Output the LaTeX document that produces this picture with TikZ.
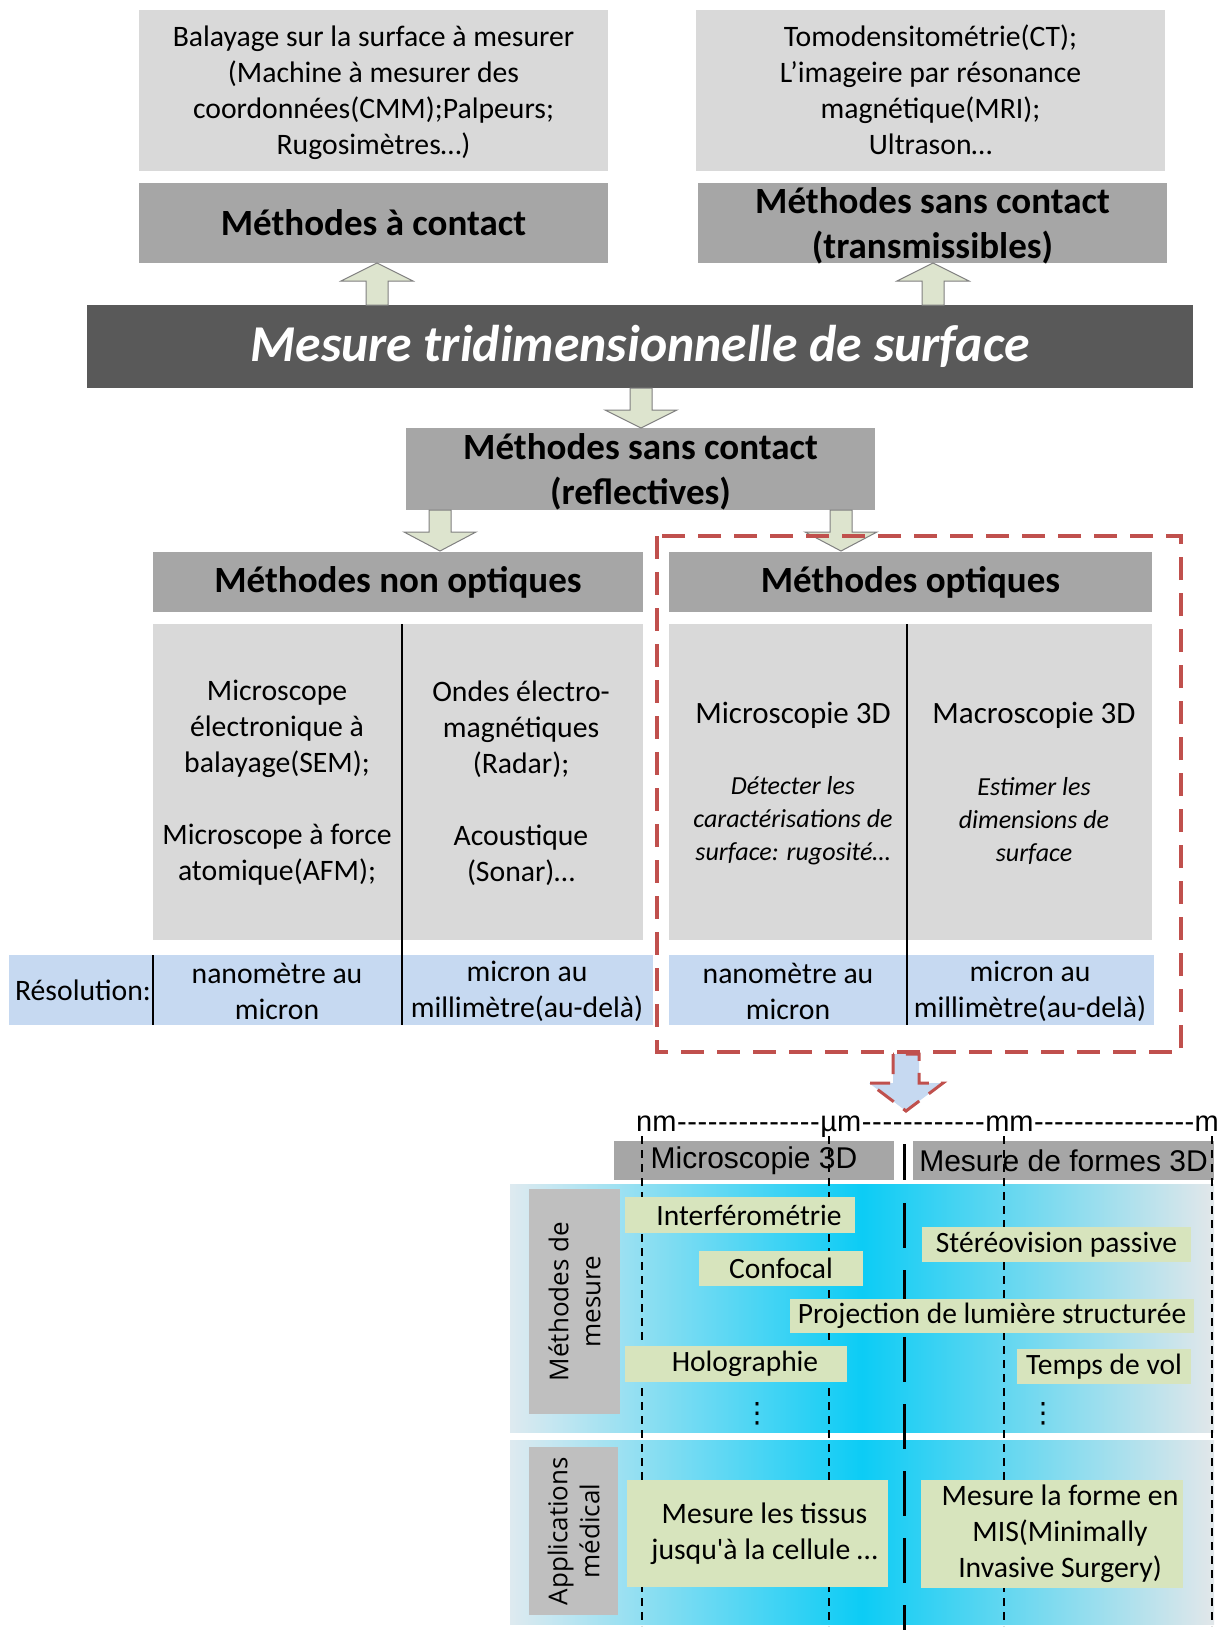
\documentclass[tikz,border=0pt]{standalone}
\usepackage{fontspec}
\setmainfont{Carlito}
\newfontfamily\arialf{Liberation Sans}
\newfontfamily\opens{Open Sans}
\newfontfamily\calp{Carlito}
\newfontfamily\dejavu{DejaVu Sans}
\usetikzlibrary{calc}
\definecolor{lgray}{RGB}{217,217,217}
\definecolor{mgray}{RGB}{166,166,166}
\definecolor{dgray}{RGB}{89,89,89}
\definecolor{lblgray}{RGB}{191,191,191}
\definecolor{rblue}{RGB}{198,217,241}
\definecolor{arrfill}{RGB}{221,228,206}
\definecolor{arrdraw}{RGB}{128,128,128}
\definecolor{redd}{RGB}{192,80,77}
\definecolor{gbox}{RGB}{215,228,189}
\definecolor{cyanc}{RGB}{12,204,245}
\definecolor{edgeL}{RGB}{222,234,240}
\definecolor{edgeR}{RGB}{226,231,234}
\newcommand\fsz[2]{\fontsize{#1}{#2}\selectfont}
\newcommand\hyphs[1]{\hbox to #1pt{\xleaders\hbox{-}\hfill}}
% block arrow: x, y start, y head base, y tip, half stem, half head
\newcommand\blkarrow[7][arrowbox]{%
  \path[#1] (#2-#6,#3) -- (#2-#6,#4) -- (#2-#7,#4) -- (#2,#5) -- (#2+#7,#4) -- (#2+#6,#4) -- (#2+#6,#3) -- cycle;}
\tikzset{
  box/.style={anchor=north west, inner sep=0pt, outer sep=0pt, align=center, draw=none},
  txt/.style={inner sep=0pt, align=center},
  hdr/.style={box, fill=mgray, font=\bfseries\fsz{37}{45}},
  arrowbox/.style={fill=arrfill, draw=arrdraw, line width=1pt},
  divline/.style={draw=black, line width=1.2pt},
  reddash/.style={draw=redd, line width=3.5pt, dash pattern=on 23pt off 13pt},
  gb/.style={box, fill=gbox, font=\fsz{29.5}{36}},
  thindash/.style={draw=black, line width=1.6pt, dash pattern=on 8pt off 6pt},
  centdash/.style={draw=black, line width=3pt, dash pattern=on 45pt off 22pt},
}
\begin{document}
\begin{tikzpicture}[x=1pt,y=-1pt]
\useasboundingbox (0,0) rectangle (1224,1630);
\fill[white] (0,0) rectangle (1224,1630);

% ---- top boxes
\node[box, fill=lgray, minimum width=469, minimum height=161] (tl) at (139,10) {};
\node[txt, font=\fsz{29.7}{36}] (tlt) at ([yshift=-2pt]tl.center)
  {Balayage sur la surface à mesurer\\(Machine à mesurer des\\coordonnées(CMM);Palpeurs;\\Rugosimètres…)};
\node[box, fill=lgray, minimum width=469, minimum height=161] (tr) at (696,10) {};
\node[txt, font=\fsz{29.7}{36}] (trt) at ([yshift=1pt]tr.center)
  {Tomodensitométrie(CT);\\L’imageire par résonance\\magnétique(MRI);\\Ultrason…};
\node[hdr, minimum width=469, minimum height=80] (mc) at (139,183) {Méthodes à contact};
\node[hdr, minimum width=469, minimum height=80] (mst) at (698,183) {};
\node[txt, font=\bfseries\fsz{37}{45}] (mstt) at ([yshift=-3pt]mst.center) {Méthodes sans contact\\(transmissibles)};

% ---- main bar
\node[box, fill=dgray, minimum width=1106, minimum height=83, text=white, font=\bfseries\itshape\fsz{51.7}{60}] (big) at (87,305)
  {Mesure tridimensionnelle de surface};

\node[hdr, minimum width=469, minimum height=82] (refl) at (406,428) {};
\node[txt, font=\bfseries\fsz{37}{45}] (reflt) at ([yshift=-3pt]refl.center) {Méthodes sans contact\\(reflectives)};

% ---- second level
\node[hdr, minimum width=490, minimum height=60] (nonopt) at (153,552) {Méthodes non optiques};
\node[hdr, minimum width=483, minimum height=60] (opt) at (669,552) {Méthodes optiques};

\node[box, fill=lgray, minimum width=490, minimum height=316] (cl) at (153,624) {};
\node[box, fill=lgray, minimum width=483, minimum height=316] (cr) at (669,624) {};
\node[box, fill=rblue, minimum width=644, minimum height=70] (rl) at (9,955) {};
\node[box, fill=rblue, minimum width=485, minimum height=70] (rr) at (669,955) {};
\draw[divline] (402,624) -- (402,1025);
\draw[divline] (907,624) -- (907,1025);
\draw[divline] (153,955) -- (153,1025);

\node[txt, font=\fsz{29.7}{36}] (t1) at (277,783)
  {Microscope\\électronique à\\balayage(SEM);\\[36pt]Microscope à force\\atomique(AFM);};
\node[txt, font=\fsz{29.7}{36}] (t2) at (521,783)
  {Ondes électro-\\magnétiques\\(Radar);\\[36pt]Acoustique\\(Sonar)…};
\node[txt, font=\fsz{31}{36}] (t3) at (793,715) {Microscopie 3D};
\node[txt, font=\itshape\fsz{26}{33}] (t3i) at (793,821) {Détecter les\\caractérisations de\\surface: rugosité…};
\node[txt, font=\fsz{31}{36}] (t4) at (1034,715) {Macroscopie 3D};
\node[txt, font=\itshape\fsz{26}{33}] (t4i) at (1034,821) {Estimer les\\dimensions de\\surface};

\node[txt, font=\fsz{29.7}{36}] (res) at (83,990) {Résolution:};
\node[txt, font=\fsz{29.7}{36}] (r1) at (277,991) {nanomètre au\\micron};
\node[txt, font=\fsz{29.7}{36}] (r2) at (527,991) {micron au\\millimètre(au-delà)};
\node[txt, font=\fsz{29.7}{36}] (r3) at (788,991) {nanomètre au\\micron};
\node[txt, font=\fsz{29.7}{36}] (r4) at (1030,991) {micron au\\millimètre(au-delà)};

% ---- block arrows
\blkarrow{377}{305}{281}{263}{11}{36}
\blkarrow{933}{305}{281}{263}{11}{36}
\blkarrow{641}{388}{410}{428}{11}{36}
\blkarrow{440}{510}{532}{551}{11}{36}
\blkarrow{841}{510}{532}{551}{11}{36}

% ---- red dashed frame
\draw[reddash] (657,536) rectangle (1181,1052);
\blkarrow[fill=rblue, draw=redd, line width=3pt, dash pattern=on 20pt off 12pt]{906}{1054}{1083}{1111}{13}{37}

% ---- scale
\node[anchor=base west, inner sep=0pt, font=\arialf\fsz{29}{34}] (scale) at (636,1131)
  {nm\hyphs{144}µm\hyphs{124}mm\hyphs{161}m};

\node[box, fill=mgray, minimum width=280, minimum height=39, font=\arialf\fsz{30}{34}] (micro) at (614,1141) {Microscopie 3D};
\node[box, fill=mgray, minimum width=301, minimum height=39, font=\arialf\fsz{30}{34}] (formes) at (913,1141) {Mesure de formes 3D};

% ---- panels
\shade[left color=edgeL, right color=edgeR, middle color=cyanc] (510,1184) rectangle (1214,1432);
\shade[left color=edgeL, right color=edgeR, middle color=cyanc] (510,1440) rectangle (1214,1624);

% ---- scale lines
\foreach \xx in {642,829,1004,1212} {\draw[thindash] (\xx,1136) -- (\xx,1626);}
\draw[black, line width=3pt] (904,1144) -- (904,1180);
\draw[centdash] (904,1203) -- (904,1630);

% ---- labels
\node[box, fill=lblgray, minimum width=91, minimum height=225] (lm) at (529,1189) {};
\node[txt, rotate=90, font=\opens\fsz{26}{32}] (lmt) at (lm.center) {Méthodes de\\mesure};
\node[box, fill=lblgray, minimum width=89, minimum height=168] (la) at (529,1447) {};
\node[txt, rotate=90, font=\opens\fsz{26}{32}] (lat) at (la.center) {Applications\\médical};

% ---- green boxes
\node[gb, minimum width=230, minimum height=36] (interf) at (625,1197) {\hspace*{18pt}Interférométrie};
\node[gb, minimum width=164, minimum height=35] (confo) at (699,1251) {Confocal};
\node[gb, minimum width=269, minimum height=35] (stereo) at (922,1227) {Stéréovision passive};
\node[gb, minimum width=404, minimum height=34] (proj) at (790,1299) {Projection de lumière structurée};
\node[gb, minimum width=222, minimum height=36] (holo) at (625,1346) {\hspace*{18pt}Holographie};
\node[gb, minimum width=174, minimum height=35] (temps) at (1017,1349) {Temps de vol};
\node[txt, font=\dejavu\fsz{28}{34}] (dots1) at (757,1414) {⋮};
\node[txt, font=\dejavu\fsz{28}{34}] (dots2) at (1043,1414) {⋮};
\node[gb, minimum width=261, minimum height=107] (tissus) at (627,1480) {};
\node[txt, font=\fsz{29.7}{36}] (tissust) at ([xshift=7pt]tissus.center) {Mesure les tissus\\jusqu{\calp'}à la cellule …};
\node[gb, minimum width=262, minimum height=108] (mis) at (921,1480) {};
\node[txt, font=\fsz{29.7}{36}] (mist) at ([xshift=8pt]mis.center) {Mesure la forme en\\MIS(Minimally\\Invasive Surgery)};
\end{tikzpicture}
\end{document}
